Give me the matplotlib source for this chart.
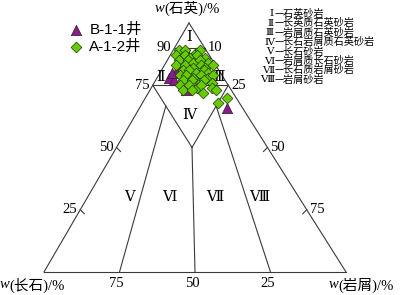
import numpy as np
import matplotlib.pyplot as plt

# B-1-1 well (triangles): quartz, feldspar, lithic fragments in %
b11_q = [78, 77, 81, 84, 73, 80, 85, 79, 66, 87, 80]
b11_f = [18, 17, 14, 11, 15, 6, 6, 12, 5, 7, 16]
b11_r = [4, 6, 5, 5, 12, 14, 9, 9, 29, 6, 4]

# A-1-2 well (diamonds)
a12_q = [89, 89, 88, 89, 87, 87, 86, 87, 86, 85, 85, 84, 85, 84, 83, 83,
         82, 83, 82, 83, 81, 81, 80, 81, 80, 79, 79, 78, 79, 78, 79, 77,
         77, 76, 77, 76, 75, 75, 74, 75, 74, 73, 73, 72, 73, 68, 70]
a12_f = [9, 7, 4, 2, 11, 8, 7, 4, 2, 11, 8, 7, 4, 2, 13, 10,
         8, 5, 4, 1, 12, 10, 8, 5, 4, 14, 12, 10, 7, 5, 3, 14,
         11, 9, 7, 5, 16, 13, 11, 9, 6, 16, 13, 10, 5, 7, 3]
a12_r = [2, 4, 8, 9, 2, 5, 7, 9, 12, 4, 7, 9, 11, 14, 4, 7,
         10, 12, 14, 16, 7, 9, 12, 14, 16, 7, 9, 12, 14, 17, 18, 9,
         12, 15, 16, 19, 9, 12, 15, 16, 20, 11, 14, 18, 22, 25, 27]

field_names = ['Ⅰ', 'Ⅱ', 'Ⅲ', 'Ⅳ', 'Ⅴ', 'Ⅵ', 'Ⅶ', 'Ⅷ']
field_desc = ['石英砂岩', '长英质石英砂岩', '岩屑质石英砂岩', '长石岩屑质石英砂岩',
              '长石砂岩', '岩屑质长石砂岩', '长石质岩屑砂岩', '岩屑砂岩']

# corners in figure pixels: quartz apex, feldspar (left), lithics (right)
QV = (189, 23)
FV = (44, 272)
RV = (346, 272)

SERIF = ['Liberation Serif', 'DejaVu Serif', 'Noto Sans CJK SC']
CJK = ['Noto Sans CJK SC', 'DejaVu Sans']
LC = '#3a3a3a'


def tern(q, f, r):
    q, f, r = (np.asarray(v, float) for v in (q, f, r))
    s = q + f + r
    x = (q * QV[0] + f * FV[0] + r * RV[0]) / s
    y = (q * QV[1] + f * FV[1] + r * RV[1]) / s
    return x, y


def seg(ax, a, b):
    x0, y0 = tern(*a)
    x1, y1 = tern(*b)
    ax.plot([x0, x1], [y0, y1], color=LC, lw=0.8, zorder=1)


def main():
    fig = plt.figure(figsize=(4, 2.95), dpi=100)
    ax = fig.add_axes([0, 0, 1, 1])
    ax.set_xlim(0, 400)
    ax.set_ylim(295, 0)
    ax.axis('off')

    # outer triangle and field boundaries
    seg(ax, (100, 0, 0), (0, 100, 0))
    seg(ax, (100, 0, 0), (0, 0, 100))
    seg(ax, (0, 100, 0), (0, 0, 100))
    seg(ax, (90, 10, 0), (90, 0, 10))
    seg(ax, (75, 25, 0), (75, 0, 25))
    seg(ax, (75, 25, 0), (50, 25, 25))
    seg(ax, (75, 0, 25), (50, 25, 25))
    seg(ax, (50, 25, 25), (0, 50, 50))
    seg(ax, (200 / 3, 25, 25 / 3), (0, 75, 25))
    seg(ax, (200 / 3, 25 / 3, 25), (0, 25, 75))

    # small ticks on the side edges
    for q in [50, 25]:
        x, y = tern(q, 100 - q, 0)
        ax.plot([x, x + 4], [y, y + 4], color=LC, lw=0.8)
        x, y = tern(q, 0, 100 - q)
        ax.plot([x, x - 4], [y, y + 4], color=LC, lw=0.8)

    # edge labels
    for q in [90, 75, 50, 25]:
        x, y = tern(q, 100 - q, 0)
        ax.text(x - 3, y, str(q), ha='right', va='center', fontsize=10.5, family=SERIF)
        x, y = tern(q, 0, 100 - q)
        ax.text(x + 3, y, str(100 - q), ha='left', va='center', fontsize=10.5, family=SERIF)
    for f in [75, 50, 25]:
        x, y = tern(0, f, 100 - f)
        ax.text(x - 3, y + 5, str(f), ha='center', va='top', fontsize=10.5, family=SERIF)

    # field labels inside the triangle
    spots = [(94, 3, 3), (78, 21, 1), (78, 1.5, 20.5), (63, 19, 18),
             (30, 56, 14), (30, 43, 27), (30, 28, 42), (30, 13, 57)]
    for name, (q, f, r) in zip(field_names, spots):
        x, y = tern(q, f, r)
        ax.text(x, y, name, ha='center', va='center', fontsize=10.5, family=SERIF)

    # axis titles
    for (x, y), name in [((164, 8), '石英'), ((9, 285), '长石'), ((338, 285), '岩屑')]:
        ax.text(x, y, 'w', ha='right', va='center', fontsize=10.5,
                family=SERIF, style='italic')
        ax.text(x, y, '(' + name + ')/%', ha='left', va='center', fontsize=10.5, family=SERIF)

    # data
    x, y = tern(b11_q, b11_f, b11_r)
    ax.scatter(x, y, marker='^', s=55, c='#8b1a8b', edgecolors='#222222',
               linewidths=0.5, zorder=3, label='B-1-1井')
    x, y = tern(a12_q, a12_f, a12_r)
    ax.scatter(x, y, marker='D', s=30, c='#66cc00', edgecolors='#1f3a00',
               linewidths=0.5, zorder=4, label='A-1-2井')

    ax.legend(loc='upper left', bbox_to_anchor=(68 / 400, 1 - 23 / 295),
              frameon=False, borderpad=0, borderaxespad=0, handlelength=1,
              handletextpad=0.4, labelspacing=0.15,
              prop={'family': ['Liberation Sans', 'Noto Sans CJK SC'], 'size': 11})

    # key of field names on the right
    for i, (name, desc) in enumerate(zip(field_names, field_desc)):
        yy = 14 + i * 9.4
        ax.text(274, yy, name, ha='right', va='center', fontsize=7.5, family=SERIF)
        ax.text(275, yy, '—' + desc, ha='left', va='center', fontsize=7.3, family=CJK)

    fig.savefig('out.png', dpi=100)


if __name__ == '__main__':
    main()
